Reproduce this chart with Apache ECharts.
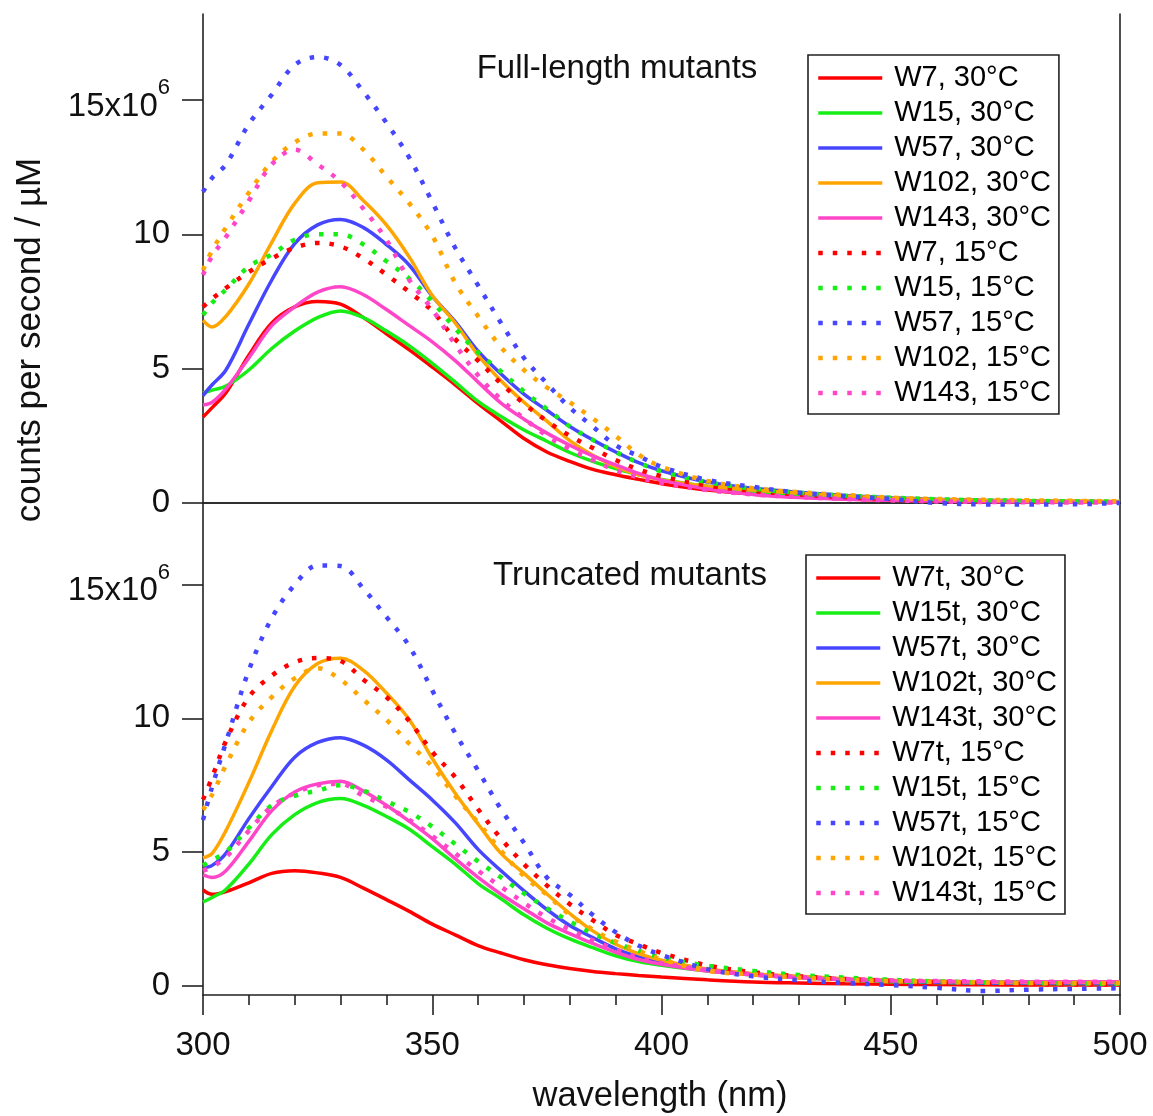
<!DOCTYPE html>
<html><head><meta charset="utf-8">
<script src="https://cdn.jsdelivr.net/npm/echarts@6/dist/echarts.min.js"></script>
<style>html,body{margin:0;padding:0;background:#fff}#c{width:1153px;height:1116px}</style>
</head><body><div id="c"></div>
<script>
// wavelength grid (nm)
const wavelengths = [300,302,305,310,315,320,325,330,335,340,345,350,355,360,365,370,375,380,385,390,395,400,410,420,430,440,450,460,470,480,490,500];

// Full-length mutants (x10^6 counts per second / µM)
const fullW7_30   = [3.2,3.55,4.1,5.5,6.7,7.3,7.5,7.4,6.9,6.3,5.7,5.06,4.4,3.7,3.05,2.4,1.9,1.55,1.25,1.05,0.88,0.72,0.48,0.33,0.22,0.15,0.1,0.07,0.05,0.04,0.04,0.03];
const fullW15_30  = [4.1,4.2,4.35,4.95,5.75,6.4,6.9,7.15,6.9,6.4,5.85,5.2,4.5,3.78,3.22,2.72,2.3,1.88,1.55,1.28,1.05,0.88,0.62,0.45,0.32,0.22,0.15,0.1,0.08,0.06,0.05,0.05];
const fullW57_30  = [4.0,4.4,4.95,6.65,8.3,9.65,10.35,10.55,10.25,9.62,8.85,7.7,6.75,5.65,4.8,4.05,3.45,2.85,2.35,1.9,1.5,1.2,0.78,0.55,0.4,0.28,0.2,0.14,0.1,0.08,0.06,0.05];
const fullW102_30 = [6.8,6.55,6.95,8.15,9.7,11.15,11.92,11.95,11.25,10.35,9.15,7.72,6.7,5.5,4.55,3.75,3.05,2.32,1.78,1.35,1.05,0.86,0.62,0.48,0.36,0.26,0.18,0.13,0.1,0.08,0.07,0.06];
const fullW143_30 = [3.65,3.75,4.25,5.4,6.6,7.3,7.85,8.05,7.75,7.2,6.6,6.0,5.3,4.5,3.72,3.12,2.6,2.15,1.75,1.42,1.1,0.85,0.52,0.32,0.2,0.14,0.1,0.07,0.05,0.04,0.03,0.03];
const fullW7_15   = [7.3,7.6,8.0,8.6,9.1,9.5,9.68,9.55,9.1,8.5,7.85,7.15,6.1,5.3,4.45,3.7,3.05,2.5,2.05,1.6,1.25,1.0,0.65,0.45,0.32,0.22,0.15,0.1,0.07,0.05,0.04,0.03];
const fullW15_15  = [7.0,7.45,7.95,8.8,9.25,9.8,10.0,10.0,9.62,9.0,8.35,7.5,6.5,5.6,4.9,4.15,3.5,2.85,2.35,1.9,1.5,1.18,0.78,0.53,0.38,0.27,0.2,0.14,0.1,0.08,0.06,0.05];
const fullW57_15  = [11.58,12.1,12.6,14.1,15.2,16.3,16.6,16.3,15.3,14.15,12.85,11.2,9.5,8.1,6.7,5.4,4.45,3.55,2.85,2.15,1.75,1.35,0.86,0.6,0.38,0.25,0.15,0.0,-0.05,-0.06,-0.05,0.0];
const fullW102_15 = [8.67,9.4,10.25,11.55,12.7,13.42,13.75,13.75,13.15,12.15,11.15,9.95,8.2,6.95,5.8,4.95,4.3,3.75,3.15,2.5,1.8,1.35,0.82,0.55,0.4,0.3,0.2,0.15,0.12,0.1,0.08,0.06];
const fullW143_15 = [8.49,9.2,9.9,11.25,12.6,13.15,12.6,11.95,10.95,9.8,8.3,7.2,5.9,4.75,3.85,3.15,2.5,2.0,1.6,1.22,0.95,0.75,0.48,0.32,0.22,0.15,0.1,0.06,0.04,0.03,0.02,0.02];

// Truncated mutants
const truncW7_30   = [3.58,3.42,3.52,3.85,4.2,4.3,4.22,4.05,3.65,3.22,2.78,2.3,1.9,1.5,1.22,0.97,0.78,0.64,0.53,0.45,0.38,0.32,0.22,0.14,0.1,0.07,0.05,0.04,0.03,0.02,0.02,0.02];
const truncW15_30  = [3.13,3.3,3.6,4.55,5.65,6.4,6.85,7.0,6.75,6.33,5.85,5.2,4.55,3.82,3.25,2.65,2.15,1.75,1.42,1.12,0.9,0.76,0.55,0.4,0.3,0.22,0.15,0.12,0.1,0.09,0.08,0.08];
const truncW57_30  = [4.41,4.5,4.95,6.25,7.45,8.55,9.1,9.28,9.0,8.45,7.7,6.95,6.1,5.1,4.3,3.55,2.85,2.25,1.8,1.38,1.08,0.88,0.6,0.44,0.32,0.24,0.18,0.13,0.1,0.09,0.08,0.07];
const truncW102_30 = [4.78,4.95,5.8,7.6,9.55,11.2,12.05,12.25,11.8,10.95,9.95,8.5,7.2,6.05,4.95,4.2,3.43,2.7,2.05,1.55,1.2,0.95,0.62,0.45,0.35,0.26,0.2,0.16,0.14,0.12,0.12,0.12];
const truncW143_30 = [4.15,4.05,4.3,5.4,6.55,7.25,7.55,7.65,7.28,6.75,6.15,5.5,4.75,4.05,3.42,2.88,2.35,1.95,1.58,1.25,0.98,0.8,0.55,0.4,0.3,0.23,0.18,0.16,0.15,0.15,0.15,0.15];
const truncW7_15   = [6.96,7.8,9.15,10.8,11.6,12.1,12.26,12.15,11.45,10.8,9.9,8.75,7.8,6.6,5.5,4.55,3.75,3.05,2.45,1.9,1.55,1.22,0.76,0.5,0.35,0.25,0.18,0.12,0.08,0.06,0.05,0.05];
const truncW15_15  = [4.5,4.7,5.0,5.9,6.75,7.1,7.3,7.5,7.3,6.9,6.5,5.95,5.3,4.65,4.05,3.45,2.9,2.4,1.95,1.6,1.3,1.05,0.75,0.55,0.4,0.3,0.22,0.16,0.12,0.1,0.08,0.07];
const truncW57_15  = [6.2,7.45,9.1,11.8,13.75,15.0,15.72,15.7,14.85,13.8,12.7,11.05,9.45,8.05,6.6,5.35,4.05,3.4,2.65,2.0,1.5,1.15,0.62,0.35,0.2,0.1,0.02,-0.08,-0.2,-0.15,-0.12,-0.1];
const truncW102_15 = [6.58,7.15,8.25,9.85,10.8,11.5,11.88,11.45,10.7,9.95,9.05,8.2,7.1,6.1,5.05,4.1,3.4,2.65,2.1,1.65,1.3,0.98,0.55,0.42,0.3,0.22,0.17,0.14,0.12,0.1,0.1,0.1];
const truncW143_15 = [4.3,4.45,4.8,5.8,6.7,7.2,7.5,7.55,7.1,6.7,6.2,5.6,4.95,4.3,3.7,3.1,2.55,2.1,1.7,1.35,1.05,0.85,0.58,0.42,0.32,0.25,0.2,0.17,0.16,0.15,0.15,0.15];

const fullNames  = ['W7, 30°C','W15, 30°C','W57, 30°C','W102, 30°C','W143, 30°C','W7, 15°C','W15, 15°C','W57, 15°C','W102, 15°C','W143, 15°C'];
const truncNames = ['W7t, 30°C','W15t, 30°C','W57t, 30°C','W102t, 30°C','W143t, 30°C','W7t, 15°C','W15t, 15°C','W57t, 15°C','W102t, 15°C','W143t, 15°C'];
const yTicks = [0,5,10,15];
const xTicks = [300,350,400,450,500];

const fullData  = [fullW7_30,fullW15_30,fullW57_30,fullW102_30,fullW143_30,fullW7_15,fullW15_15,fullW57_15,fullW102_15,fullW143_15];
const truncData = [truncW7_30,truncW15_30,truncW57_30,truncW102_30,truncW143_30,truncW7_15,truncW15_15,truncW57_15,truncW102_15,truncW143_15];
const colors = ['#ff0000','#16ee16','#4646ff','#ffa500','#ff46c8'];

const FONT = '"Liberation Sans", Arial, sans-serif';

function makeSeries(names, data, axisIdx) {
  return names.map((n, i) => ({
    name: n, type: 'line', xAxisIndex: axisIdx.x, yAxisIndex: axisIdx.y,
    data: wavelengths.map((w, k) => [w, data[i][k]]),
    showSymbol: false, symbol: 'none', smooth: 0.35, clip: false,
    lineStyle: i < 5 ? { color: colors[i % 5], width: 3.5, type: 'solid' }
                     : { color: colors[i % 5], width: 4.5, type: [4.5, 10], cap: 'butt' },
    itemStyle: { color: colors[i % 5] },
    emphasis: { disabled: true }, silent: true, z: i < 5 ? 2 : 3
  }));
}

const axLine = { show: true, lineStyle: { color: '#222', width: 1.6 } };
const yLabel = {
  margin: 33, color: '#111', fontFamily: FONT, fontSize: 33,
  customValues: yTicks,
  formatter: v => v === 15 ? '{a|15x10}{s|6}' : String(v),
  rich: {
    a: { fontSize: 33, fontFamily: FONT, color: '#111', verticalAlign: 'bottom', lineHeight: 33 },
    s: { fontSize: 22, fontFamily: FONT, color: '#111', verticalAlign: 'top', lineHeight: 46 }
  }
};
const yTick = { show: true, inside: false, length: 21, customValues: yTicks, lineStyle: { color: '#222', width: 1.6 } };

function legendCfg(names, left, top) {
  return {
    data: names, left: left, top: top, orient: 'vertical', selectedMode: false,
    itemWidth: 64, itemHeight: 14, itemGap: 5, padding: [8, 8, 6, 8],
    borderColor: '#222', borderWidth: 1.6, backgroundColor: '#fff',
    itemStyle: { opacity: 0 },
    lineStyle: { width: 'inherit', type: 'inherit' },
    textStyle: { fontSize: 29, fontFamily: FONT, color: '#000', lineHeight: 30, padding: [0, 0, 0, 7] }
  };
}

const option = {
  animation: false,
  backgroundColor: '#fff',
  grid: [
    { left: 203, top: 14, width: 917, height: 489 },
    { left: 203, top: 503, width: 917, height: 492 }
  ],
  xAxis: [
    { type: 'value', gridIndex: 0, min: 300, max: 500, interval: 50, position: 'bottom',
      axisLine: Object.assign({ onZero: false }, axLine), axisTick: { show: false }, axisLabel: { show: false }, splitLine: { show: false } },
    { type: 'value', gridIndex: 0, min: 300, max: 500, interval: 50, position: 'top',
      axisLine: axLine, axisTick: { show: false }, axisLabel: { show: false }, splitLine: { show: false } },
    { type: 'value', gridIndex: 1, min: 300, max: 500, interval: 50, position: 'bottom',
      axisLine: Object.assign({ onZero: false }, axLine),
      axisTick: { show: true, inside: false, length: 20, lineStyle: { color: '#222', width: 1.6 } },
      minorTick: { show: true, splitNumber: 5, length: 10, lineStyle: { color: '#222', width: 1.6 } },
      axisLabel: { margin: 34, color: '#111', fontFamily: FONT, fontSize: 33, customValues: xTicks },
      splitLine: { show: false } }
  ],
  yAxis: [
    { type: 'value', gridIndex: 0, min: 0, max: 18.2, position: 'left',
      axisLine: axLine, axisTick: yTick, axisLabel: yLabel, splitLine: { show: false } },
    { type: 'value', gridIndex: 0, min: 0, max: 18.2, position: 'right',
      axisLine: axLine, axisTick: { show: false }, axisLabel: { show: false }, splitLine: { show: false } },
    { type: 'value', gridIndex: 1, min: -0.35, max: 18.06, position: 'left',
      axisLine: axLine, axisTick: yTick, axisLabel: yLabel, splitLine: { show: false } },
    { type: 'value', gridIndex: 1, min: -0.35, max: 18.06, position: 'right',
      axisLine: axLine, axisTick: { show: false }, axisLabel: { show: false }, splitLine: { show: false } }
  ],
  legend: [legendCfg(fullNames, 808, 55), legendCfg(truncNames, 806, 555)],
  series: makeSeries(fullNames, fullData, { x: 0, y: 0 }).concat(makeSeries(truncNames, truncData, { x: 2, y: 2 })),
  graphic: [
    { type: 'text', x: 617, y: 69, style: { text: 'Full-length mutants', font: '33px ' + FONT, fill: '#111', textAlign: 'center', textVerticalAlign: 'middle', align: 'center', verticalAlign: 'middle' } },
    { type: 'text', x: 630, y: 576, style: { text: 'Truncated mutants', font: '33px ' + FONT, fill: '#111', textAlign: 'center', textVerticalAlign: 'middle', align: 'center', verticalAlign: 'middle' } },
    { type: 'text', x: 30, y: 340, rotation: Math.PI / 2, style: { text: 'counts per second / µM', font: '35px ' + FONT, fill: '#111', textAlign: 'center', textVerticalAlign: 'middle', align: 'center', verticalAlign: 'middle' } },
    { type: 'text', x: 660, y: 1096, style: { text: 'wavelength (nm)', font: '34.5px ' + FONT, fill: '#111', textAlign: 'center', textVerticalAlign: 'middle', align: 'center', verticalAlign: 'middle' } }
  ]
};

const chart = echarts.init(document.getElementById('c'), null, { renderer: 'canvas' });
chart.setOption(option);
</script>
</body></html>
